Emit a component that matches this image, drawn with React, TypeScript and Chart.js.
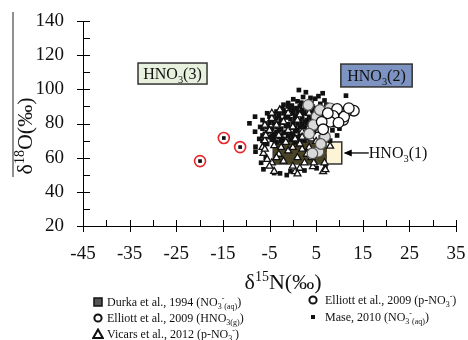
import React, { useEffect, useRef } from "react";
import { Chart, registerables } from "chart.js";
Chart.register(...registerables);

const SERIF = "'Liberation Serif', 'Times New Roman', serif";

// axis ticks
const xTicks = [-45, -35, -25, -15, -5, 5, 15, 25, 35];
const yTicks = [20, 40, 60, 80, 100, 120, 140];

// HNO3 source ranges [min, max]
const boxNames = ["1", "2", "3"];
const boxX = [[-4.2, 10.5], [10.3, 25.6], [-33.2, -18.4]];
const boxY = [[56.3, 69.2], [101.4, 114.8], [103.1, 115.4]];

// Durka et al., 1994 (NO3- aq)
const durka = [
  [-3.1, 59.3], [-3.1, 62.6], [-3.1, 66.2], [-1.2, 59.3], [-1.2, 62.6], [-1.2, 66.2],
  [0.8, 59.3], [0.8, 62.6], [0.8, 66.2], [2.8, 59.3], [2.8, 62.6], [2.8, 66.2],
  [4.6, 59.3], [4.6, 62.6], [4.6, 66.2], [6.2, 59.3], [6.2, 62.6], [6.2, 66.2],
];

// Elliott et al., 2009 (HNO3 g)
const elliottG = [
  [13.1, 87.5], [11.4, 86.9], [10.8, 82], [9.5, 88.5], [8.7, 84.4], [8, 81],
  [6.2, 81], [6.5, 76.6], [11, 84], [12, 89], [9.8, 80.5], [7.5, 86],
];

// Elliott et al., 2009 (p-NO3-)
const elliottP = [
  [5.1, 84], [5.8, 87.9], [4.4, 79.1], [6.9, 72.3], [5.5, 63.5], [3.3, 90.8],
  [8, 88.9], [3.5, 74], [6, 68], [4.2, 62.5],
];

// Vicars et al., 2012 (p-NO3-)
const vicars = [
  [-6.3, 62.5], [-4.5, 57], [0.5, 51.8], [1.5, 53.8], [6.5, 51.8], [8, 66.8], [4.3, 54.7],
  [-6.5, 66], [-6, 70], [-5.8, 73], [-5, 76], [-3.5, 79], [-4.5, 83], [-2, 81], [-1, 76],
  [0, 78], [1, 82], [2, 75], [3.5, 78], [-3, 73], [-1.5, 69], [0.5, 71], [2, 72],
  [-6, 65], [-5.5, 59], [-3, 62], [-1, 64], [1, 60], [3, 62], [-2, 58], [0, 66], [2, 65],
  [4, 60], [5, 63], [-4, 67], [-2.5, 66], [1.5, 68], [3.5, 66], [-3.5, 60], [2.5, 57],
  [4.5, 57], [6.8, 57], [7, 53], [-5, 55], [-4, 52], [1, 50.5], [0, 55], [-6, 79],
  [-4.5, 86], [-2.8, 88], [-1, 86], [1.5, 85], [3.5, 86], [5.5, 82], [6.5, 79], [5.5, 76],
  [4, 71], [5, 69.5],
];

// Mase, 2010 (NO3- aq)
const mase = [
  [1.3, 99.6], [2.8, 98.3], [6.4, 97.7], [11.4, 96.3], [0.1, 94.2], [1.8, 92.2], [5.5, 96],
  [4.8, 94.5], [3.5, 93], [6.8, 93.5], [-1, 92], [-0.2, 90.5], [2.2, 95.5], [5.9, 91.5],
  [4.2, 90], [7.2, 91], [-2.3, 89], [0.8, 89], [3, 88.5], [5, 88], [-3.5, 87], [-1.5, 86.5],
  [1, 87], [2.5, 86], [4, 86.5], [6.5, 87.5], [7.5, 88.5], [-2, 88], [0, 88.5], [1.5, 90],
  [2.5, 91.5], [4, 92], [-1, 90], [3, 89.5],
  [-5, 84], [-3, 84.5], [-1, 84], [0.5, 84.5], [2, 83.5], [3.5, 84], [5, 83], [6.5, 84],
  [-4.5, 82], [-2.5, 82], [-0.5, 82.5], [1.5, 81.5], [3, 82], [4.5, 81], [-6, 80], [-4, 80],
  [-2, 80.5], [0, 80], [2, 79.5], [4, 80], [5.5, 79], [-5.5, 78], [-3.5, 78], [-1.5, 78.5],
  [0.5, 77.5], [2.5, 78], [4.5, 77.5], [-5, 76], [-3, 76], [-1, 76.5], [1, 76], [3, 75.5],
  [5, 76], [-6, 74], [-4, 74], [-2, 74.5], [0, 74], [2, 73.5], [4, 74], [-5, 72], [-3, 72],
  [-1, 72.5], [1, 72], [3, 71.5], [-6.5, 70], [-4.5, 70.5], [-2.5, 70], [-0.5, 70.5],
  [1.5, 70], [-5.5, 68],
  [-5.5, 86], [-4, 85.5], [-2, 86], [0, 86], [2, 86.5], [4.5, 85], [-6.5, 82], [-3.5, 83],
  [-1.5, 83.5], [0.5, 82.5], [2.5, 81], [4, 82.5], [6, 81.5], [-5, 80.5], [-3, 80], [-1, 79.5],
  [1, 80], [3, 80.5], [5, 80], [-6.5, 77], [-4.5, 77], [-2.5, 77], [-0.5, 77.5], [1.5, 78],
  [3.5, 77], [5.5, 77.5], [-5.5, 75], [-3.5, 75], [-1.5, 75], [0.5, 75.5], [2.5, 74.5],
  [4.5, 75], [-6.5, 73], [-4.5, 73], [-2.5, 73], [-0.5, 73.5], [1.5, 74], [3.5, 73],
  [-6, 71.5], [-4, 71.5], [-2, 71], [0, 71.5], [2, 71], [-3.5, 69], [-1.5, 69.5], [0.5, 69],
  [2.5, 70], [-6.2, 68], [-2, 91], [1, 93], [3.8, 95], [-0.5, 88], [2, 88], [4.5, 89],
  [-3, 86], [6, 85.5],
  [-8.1, 84], [-9.3, 80.1], [-8.1, 75.2], [-8, 66.4], [-8, 63.5], [-7.2, 71], [-7, 78],
  [-6.3, 53.2], [-2.75, 50.8], [-1.3, 49.8], [5.1, 53.8], [-4, 51], [-0.5, 52], [2.5, 52.5],
  [7, 55], [-6.8, 57], [-5.8, 60],
  [9, 79], [8.5, 76], [7, 74], [9.5, 73], [8, 70], [10, 77], [6, 72],
];

// highlighted (red-circled) samples
const circled = [[-19.9, 58.0], [-14.8, 71.5], [-11.3, 66.2]];

const toXY = (arr: number[][]) => arr.map(([x, y]) => ({ x, y }));

type Part = { t: string; s: number; dy: number };
function drawRich(ctx: CanvasRenderingContext2D, parts: Part[], x: number, y: number, align: "left" | "center") {
  let w = 0;
  for (const p of parts) {
    ctx.font = `${p.s}px ${SERIF}`;
    w += ctx.measureText(p.t).width;
  }
  let cx = align === "center" ? x - w / 2 : x;
  ctx.textAlign = "left";
  ctx.textBaseline = "alphabetic";
  for (const p of parts) {
    ctx.font = `${p.s}px ${SERIF}`;
    ctx.fillText(p.t, cx, y + p.dy);
    cx += ctx.measureText(p.t).width;
  }
}

const hnoParts = (n: string, s: number): Part[] => [
  { t: "HNO", s, dy: 0 },
  { t: "3", s: s * 0.65, dy: s * 0.22 },
  { t: `(${n})`, s, dy: 0 },
];

const decorPlugin = {
  id: "decor",
  beforeDatasetsDraw(chart: any) {
    const { ctx, scales } = chart;
    const xs = scales.x, ys = scales.y;
    const fills = ["#fdf4d8", "#7d93c1", "#e8f1dd"];
    ctx.save();
    for (let i = 0; i < boxNames.length; i++) {
      const x0 = xs.getPixelForValue(boxX[i][0]);
      const x1 = xs.getPixelForValue(boxX[i][1]);
      const y0 = ys.getPixelForValue(boxY[i][1]);
      const y1 = ys.getPixelForValue(boxY[i][0]);
      ctx.fillStyle = fills[i];
      ctx.fillRect(x0, y0, x1 - x0, y1 - y0);
      ctx.strokeStyle = "#333";
      ctx.lineWidth = 1.5;
      ctx.strokeRect(x0, y0, x1 - x0, y1 - y0);
      if (i > 0) {
        ctx.fillStyle = "#111";
        drawRich(ctx, hnoParts(boxNames[i], 16), (x0 + x1) / 2, (y0 + y1) / 2 + 5.5, "center");
      }
    }
    ctx.restore();
  },
  afterDraw(chart: any) {
    const { ctx, scales, chartArea } = chart;
    const xs = scales.x, ys = scales.y;
    ctx.save();
    ctx.strokeStyle = "#000";
    ctx.lineWidth = 1;
    // ticks
    for (let v = -45; v <= 35; v += 5) {
      const px = Math.round(xs.getPixelForValue(v)) + 0.5;
      const major = xTicks.includes(v);
      ctx.beginPath();
      ctx.moveTo(px, chartArea.bottom - 6);
      ctx.lineTo(px, chartArea.bottom + (major ? 6 : 0));
      ctx.stroke();
    }
    for (let v = 20; v <= 140; v += 10) {
      const py = Math.round(ys.getPixelForValue(v)) + 0.5;
      const major = yTicks.includes(v);
      ctx.beginPath();
      ctx.moveTo(chartArea.left - (major ? 6 : 0), py);
      ctx.lineTo(chartArea.left + 7, py);
      ctx.stroke();
    }
    // HNO3(1) arrow + label
    const bx = xs.getPixelForValue(boxX[0][1]);
    const by = (ys.getPixelForValue(boxY[0][0]) + ys.getPixelForValue(boxY[0][1])) / 2;
    ctx.beginPath();
    ctx.moveTo(bx + 3, by);
    ctx.lineTo(bx + 27, by);
    ctx.lineWidth = 1.3;
    ctx.stroke();
    ctx.beginPath();
    ctx.moveTo(bx + 2, by);
    ctx.lineTo(bx + 10, by - 3.5);
    ctx.lineTo(bx + 10, by + 3.5);
    ctx.closePath();
    ctx.fillStyle = "#000";
    ctx.fill();
    ctx.fillStyle = "#111";
    drawRich(ctx, hnoParts(boxNames[0], 16), bx + 27, by + 5.5, "left");
    // axis titles
    ctx.fillStyle = "#111";
    drawRich(ctx, [
      { t: "δ", s: 22, dy: 0 },
      { t: "15", s: 14, dy: -8 },
      { t: "N(‰)", s: 22, dy: 0 },
    ], 283, 289, "center");
    ctx.save();
    ctx.translate(32, 136);
    ctx.rotate(-Math.PI / 2);
    drawRich(ctx, [
      { t: "δ", s: 22, dy: 0 },
      { t: "18", s: 14, dy: -8 },
      { t: "O(‰)", s: 22, dy: 0 },
    ], 0, 0, "center");
    ctx.restore();
    ctx.fillStyle = "#222";
    ctx.fillRect(12.5, 12, 1, 165);
    ctx.restore();
  },
};

function Legend() {
  const txt: React.CSSProperties = { position: "absolute", fontFamily: SERIF, fontSize: 12, color: "#111", whiteSpace: "nowrap", lineHeight: "14px" };
  const sub: React.CSSProperties = { fontSize: 8, verticalAlign: "-3px", lineHeight: 0 };
  const sup: React.CSSProperties = { fontSize: 8, verticalAlign: "5px", lineHeight: 0 };
  const no3aq = (<>NO<span style={sub}>3</span><span style={sup}>-</span><span style={sub}>(aq)</span></>);
  const pno3 = (<>p-NO<span style={sub}>3</span><span style={sup}>-</span></>);
  const sq = (cx: number, cy: number) => (
    <svg style={{ position: "absolute", left: cx - 6, top: cy - 6 }} width={12} height={12}>
      <rect x={2} y={2} width={8} height={8} fill="#555" stroke="#111" strokeWidth={1.5} />
    </svg>
  );
  const circ = (cx: number, cy: number) => (
    <svg style={{ position: "absolute", left: cx - 6, top: cy - 6 }} width={12} height={12}>
      <circle cx={6} cy={6} r={3.6} fill="#fff" stroke="#111" strokeWidth={2} />
    </svg>
  );
  const tri = (cx: number, cy: number) => (
    <svg style={{ position: "absolute", left: cx - 6, top: cy - 6 }} width={12} height={12}>
      <polygon points="6,1.5 10.8,10 1.2,10" fill="#fff" stroke="#111" strokeWidth={2} />
    </svg>
  );
  const dot = (cx: number, cy: number) => (
    <svg style={{ position: "absolute", left: cx - 6, top: cy - 6 }} width={12} height={12}>
      <rect x={4} y={4} width={4} height={4} fill="#111" />
    </svg>
  );
  return (
    <>
      {sq(98, 302)}
      <div style={{ ...txt, left: 107, top: 295 }}>Durka et al., 1994 ({no3aq})</div>
      {circ(98, 318)}
      <div style={{ ...txt, left: 107, top: 311 }}>Elliott et al., 2009 (HNO<span style={sub}>3(g)</span>)</div>
      {tri(98, 334)}
      <div style={{ ...txt, left: 107, top: 327 }}>Vicars et al., 2012 ({pno3})</div>
      {circ(313, 300)}
      <div style={{ ...txt, left: 325, top: 293 }}>Elliott et al., 2009 ({pno3})</div>
      {dot(313, 317)}
      <div style={{ ...txt, left: 325, top: 310 }}>Mase, 2010 ({no3aq})</div>
    </>
  );
}

export default function App() {
  const ref = useRef<HTMLCanvasElement>(null);
  useEffect(() => {
    if (!ref.current) return;
    const chart = new Chart(ref.current, {
      type: "scatter",
      data: {
        datasets: [
          { label: "circled", data: toXY(circled), pointStyle: "circle", pointRadius: 5.5, backgroundColor: "rgba(0,0,0,0)", borderColor: "#e8262a", borderWidth: 1.6 },
          { label: "circled core", data: toXY(circled), pointStyle: "rect", pointRadius: 2.6, backgroundColor: "#111", borderColor: "#111", borderWidth: 0 },
          { label: "Elliott et al., 2009 (HNO3(g))", data: toXY(elliottG), pointStyle: "circle", pointRadius: 5.3, backgroundColor: "#fff", borderColor: "#111", borderWidth: 1.3 },
          { label: "Elliott et al., 2009 (p-NO3-)", data: toXY(elliottP), pointStyle: "circle", pointRadius: 5.3, backgroundColor: "#d9d9d9", borderColor: "#555", borderWidth: 1.2 },
          { label: "Vicars et al., 2012 (p-NO3-)", data: toXY(vicars), pointStyle: "triangle", pointRadius: 4, backgroundColor: "#fff", borderColor: "#111", borderWidth: 1.3 },
          { label: "Mase, 2010 (NO3-(aq))", data: toXY(mase), pointStyle: "rect", pointRadius: 3.3, backgroundColor: "#111", borderColor: "#111", borderWidth: 0 },
          { label: "Durka et al., 1994 (NO3-(aq))", data: toXY(durka), pointStyle: "rect", pointRadius: 7.2, backgroundColor: "#4a4326", borderColor: "#4a4326", borderWidth: 0 },
        ],
      },
      options: {
        animation: false,
        responsive: false,
        events: [],
        layout: { padding: { left: 0, right: 12, top: 21, bottom: 0 } },
        plugins: { legend: { display: false }, tooltip: { enabled: false } },
        scales: {
          x: {
            type: "linear", min: -45, max: 35,
            afterBuildTicks: (s: any) => { s.ticks = xTicks.map((v) => ({ value: v })); },
            afterFit: (s: any) => { s.height = 114; s.paddingLeft = 0; s.paddingRight = 0; },
            grid: { display: false, drawTicks: false },
            border: { display: true, color: "#000", width: 1 },
            ticks: { color: "#111", font: { family: SERIF, size: 19 }, padding: 17, maxRotation: 0, autoSkip: false },
          },
          y: {
            type: "linear", min: 20, max: 140,
            afterBuildTicks: (s: any) => { s.ticks = yTicks.map((v) => ({ value: v })); },
            afterFit: (s: any) => { s.width = 83; s.paddingTop = 0; s.paddingBottom = 0; },
            grid: { display: false, drawTicks: false },
            border: { display: true, color: "#000", width: 1 },
            ticks: { color: "#111", font: { family: SERIF, size: 19 }, padding: 19 },
          },
        },
      },
      plugins: [decorPlugin],
    });
    return () => chart.destroy();
  }, []);
  return (
    <div style={{ position: "fixed", left: 0, top: 0, width: 468, height: 340, background: "#fff", overflow: "hidden" }}>
      <canvas ref={ref} width={468} height={340} style={{ position: "absolute", left: 0, top: 0 }} />
      <Legend />
    </div>
  );
}
